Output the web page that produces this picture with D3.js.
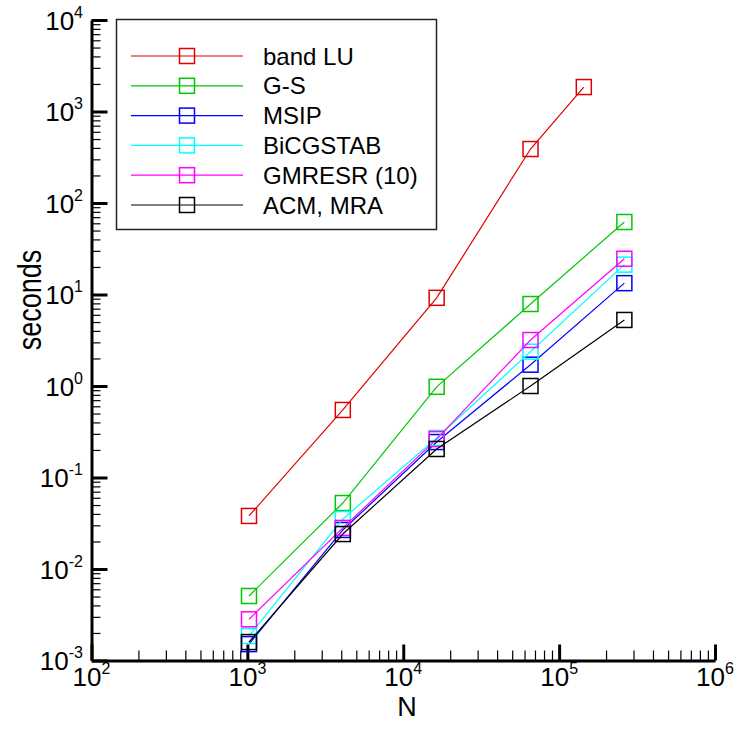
<!DOCTYPE html>
<html>
<head>
<meta charset="utf-8">
<script src="https://cdn.jsdelivr.net/npm/d3@7"></script>
<style>
  html, body { margin: 0; padding: 0; background: #fff; }
  svg { display: block; font-family: "Liberation Sans", Arial, Helvetica, sans-serif; }
</style>
</head>
<body>
<svg id="chart" width="737" height="734"></svg>
<script>
// Problem sizes (number of unknowns) at which each solver was timed
const sizes = [1024, 4096, 16384, 65536, 262144];
const sizesBandLU = [1024, 4096, 16384, 65536, 144000];

// Wall-clock time in seconds
const bandLU   = [0.038, 0.547, 9.2, 389, 1850];
const gaussSeidel = [0.00507, 0.0526, 0.98, 7.87, 62];
const msip     = [0.00151, 0.0267, 0.244, 1.71, 13.3];
const bicgstab = [0.00185, 0.0352, 0.270, 2.37, 21.2];
const gmresr   = [0.00282, 0.0281, 0.263, 3.18, 24.6];
const acmMra   = [0.00159, 0.0241, 0.205, 1.0, 5.27];

const seriesNames  = ["band LU", "G-S", "MSIP", "BiCGSTAB", "GMRESR (10)", "ACM, MRA"];
const seriesColors = ["#e00000", "#00c800", "#0000ff", "#00ffff", "#ff00ff", "#000000"];

const xExponents = [2, 3, 4, 5, 6];
const yExponents = [-3, -2, -1, 0, 1, 2, 3, 4];

const series = [
  { name: seriesNames[0], color: seriesColors[0], xs: sizesBandLU, ys: bandLU },
  { name: seriesNames[1], color: seriesColors[1], xs: sizes, ys: gaussSeidel },
  { name: seriesNames[2], color: seriesColors[2], xs: sizes, ys: msip },
  { name: seriesNames[3], color: seriesColors[3], xs: sizes, ys: bicgstab },
  { name: seriesNames[4], color: seriesColors[4], xs: sizes, ys: gmresr },
  { name: seriesNames[5], color: seriesColors[5], xs: sizes, ys: acmMra }
];

const svg = d3.select("#chart");
const plotLeft = 91.5, plotRight = 715, plotTop = 20, plotBottom = 660.5;

const x = d3.scaleLog().domain([1e2, 1e6]).range([plotLeft, plotRight]);
const y = d3.scaleLog().domain([1e-3, 1e4]).range([plotBottom, plotTop]);

// minor tick positions: 2..9 within each decade
function minorTicks(lo, hi) {
  const out = [];
  for (let e = lo; e < hi; e++) for (let m = 2; m <= 9; m++) out.push(m * Math.pow(10, e));
  return out;
}
const xMajor = xExponents.map(e => Math.pow(10, e));
const yMajor = yExponents.map(e => Math.pow(10, e));

// ---- axes (ticks point into the plot) ----
const gx = svg.append("g").attr("transform", `translate(0,${plotBottom})`);
gx.append("g").call(d3.axisBottom(x).tickValues(minorTicks(2, 6)).tickSize(-10).tickSizeOuter(0).tickFormat(""))
  .call(g => g.selectAll(".tick line").attr("stroke", "#000").attr("stroke-width", 1.2))
  .call(g => g.select(".domain").remove());
gx.append("g").call(d3.axisBottom(x).tickValues(xMajor).tickSize(-16).tickSizeOuter(0).tickFormat(""))
  .call(g => g.selectAll(".tick line").attr("stroke", "#000").attr("stroke-width", 3))
  .call(g => g.select(".domain").attr("stroke", "#000").attr("stroke-width", 3));

const gy = svg.append("g").attr("transform", `translate(${plotLeft},0)`);
gy.append("g").call(d3.axisLeft(y).tickValues(minorTicks(-3, 4)).tickSize(-9).tickSizeOuter(0).tickFormat(""))
  .call(g => g.selectAll(".tick line").attr("stroke", "#000").attr("stroke-width", 1.2))
  .call(g => g.select(".domain").remove());
gy.append("g").call(d3.axisLeft(y).tickValues(yMajor).tickSize(-16).tickSizeOuter(0).tickFormat(""))
  .call(g => g.selectAll(".tick line").attr("stroke", "#000").attr("stroke-width", 3))
  .call(g => g.select(".domain").attr("stroke", "#000").attr("stroke-width", 3));

// ---- tick labels as 10 with superscript exponent ----
xExponents.forEach(e => {
  const t = svg.append("text")
    .attr("x", x(Math.pow(10, e)))
    .attr("y", plotBottom + 25)
    .attr("text-anchor", "middle")
    .attr("font-size", 26)
    .attr("fill", "#000");
  t.append("tspan").text("10");
  t.append("tspan").attr("dy", -12).attr("font-size", 16).text(e);
});
yExponents.forEach(e => {
  const t = svg.append("text")
    .attr("x", 83)
    .attr("y", y(Math.pow(10, e)) + 9.5)
    .attr("text-anchor", "end")
    .attr("font-size", 26)
    .attr("fill", "#000");
  t.append("tspan").text("10");
  t.append("tspan").attr("dy", -12).attr("font-size", 16).text(e);
});

// ---- axis titles ----
svg.append("text").attr("x", 407).attr("y", 716).attr("text-anchor", "middle")
  .attr("font-size", 27).text("N");
svg.append("text").attr("transform", "translate(41,300) rotate(-90) scale(1,1.25)")
  .attr("text-anchor", "middle").attr("font-size", 27).text("seconds");

// ---- data ----
const line = d3.line().x(d => x(d[0])).y(d => y(d[1]));
const markerSize = 15;
series.forEach(s => {
  const pts = s.xs.map((v, i) => [v, s.ys[i]]);
  const g = svg.append("g");
  g.append("path").datum(pts).attr("d", line)
    .attr("fill", "none").attr("stroke", s.color).attr("stroke-width", 1.2);
  g.selectAll("rect").data(pts).join("rect")
    .attr("x", d => x(d[0]) - markerSize / 2)
    .attr("y", d => y(d[1]) - markerSize / 2)
    .attr("width", markerSize).attr("height", markerSize)
    .attr("fill", "none").attr("stroke", s.color).attr("stroke-width", 1.5);
});

// ---- legend ----
const legend = svg.append("g");
legend.append("rect").attr("x", 116.5).attr("y", 19.5).attr("width", 320).attr("height", 210)
  .attr("fill", "#fff").attr("stroke", "#222").attr("stroke-width", 1.5);
series.forEach((s, i) => {
  const ly = 56 + i * 29.8;
  legend.append("line").attr("x1", 131).attr("x2", 243).attr("y1", ly).attr("y2", ly)
    .attr("stroke", s.color).attr("stroke-width", 1.2);
  legend.append("rect").attr("x", 187 - markerSize / 2).attr("y", ly - markerSize / 2)
    .attr("width", markerSize).attr("height", markerSize)
    .attr("fill", "none").attr("stroke", s.color).attr("stroke-width", 1.5);
  legend.append("text").attr("x", 263).attr("y", ly + 8.5).attr("font-size", 24)
    .attr("fill", "#000").text(s.name);
});
</script>
</body>
</html>
